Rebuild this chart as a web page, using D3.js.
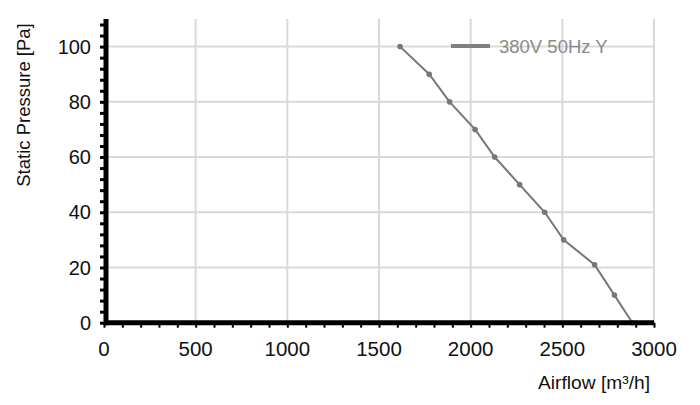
<!DOCTYPE html>
<html>
<head>
<meta charset="utf-8">
<script src="https://cdn.jsdelivr.net/npm/d3@7"></script>
<style>
  body { margin: 0; background: #fff; }
  svg { display: block; font-family: "Liberation Sans", Arial, sans-serif; }
</style>
</head>
<body>
<div id="root"></div>
<script>
// Data
const airflow = [1615, 1774, 1885, 2024, 2131, 2267, 2404, 2507, 2676, 2784, 2882];
const pressure = [100, 90, 80, 70, 60, 50, 40, 30, 21, 10, 0];
const seriesName = '380V 50Hz Y';
const xTicks = [0, 500, 1000, 1500, 2000, 2500, 3000];
const yTicks = [0, 20, 40, 60, 80, 100];

const width = 700;
const height = 405;
const plotL = 104, plotR = 654, plotT = 19, plotB = 322.7;
const gray = '#777';

const svg = d3.select('#root')
    .append('svg')
    .attr('width', width)
    .attr('height', height);

const x = d3.scaleLinear().domain([0, 3000]).range([plotL, plotR]);
const y = d3.scaleLinear().domain([0, 110]).range([plotB, plotT]);

// Grid
svg.append('g')
    .selectAll('line')
    .data(xTicks.slice(1))
    .join('line')
    .attr('x1', d => x(d)).attr('x2', d => x(d))
    .attr('y1', plotT).attr('y2', plotB)
    .attr('stroke', '#d9d9d9')
    .attr('stroke-width', 2);
svg.append('g')
    .selectAll('line')
    .data(yTicks.slice(1))
    .join('line')
    .attr('x1', plotL).attr('x2', plotR)
    .attr('y1', d => y(d)).attr('y2', d => y(d))
    .attr('stroke', '#d9d9d9')
    .attr('stroke-width', 2);

// Curve
const pts = airflow.map((a, i) => [a, pressure[i]]);
svg.append('path')
    .datum(pts)
    .attr('fill', 'none')
    .attr('stroke', gray)
    .attr('stroke-width', 2)
    .attr('d', d3.line().x(d => x(d[0])).y(d => y(d[1])));
svg.append('g')
    .selectAll('circle')
    .data(pts)
    .join('circle')
    .attr('cx', d => x(d[0]))
    .attr('cy', d => y(d[1]))
    .attr('r', 2.8)
    .attr('fill', gray);

// Axes: minor ticks, then major ones with labels
const yMinor = d3.axisLeft(y).tickValues(d3.range(0, 110, 4)).tickSize(6).tickFormat('');
const xMinor = d3.axisBottom(x).tickValues(d3.range(0, 3001, 100)).tickSize(5).tickFormat('');

const gy = svg.append('g')
    .attr('transform', `translate(${plotL + 2},0)`)
    .call(yMinor);
gy.selectAll('.tick line').attr('stroke', '#000').attr('stroke-width', 3);
gy.select('.domain').remove();

const gx = svg.append('g')
    .attr('transform', `translate(0,${plotB})`)
    .call(xMinor);
gx.selectAll('.tick line').attr('stroke', '#000').attr('stroke-width', 2);
gx.select('.domain').remove();

// Thick axis lines
svg.append('line')
    .attr('x1', plotL + 2).attr('x2', plotL + 2)
    .attr('y1', plotT).attr('y2', plotB + 2.5)
    .attr('stroke', '#000').attr('stroke-width', 5);
svg.append('line')
    .attr('x1', plotL).attr('x2', plotR)
    .attr('y1', plotB).attr('y2', plotB)
    .attr('stroke', '#000').attr('stroke-width', 5);

// Tick labels
svg.append('g')
    .selectAll('text')
    .data(yTicks)
    .join('text')
    .attr('x', 91)
    .attr('y', d => y(d))
    .attr('dy', '0.36em')
    .attr('text-anchor', 'end')
    .attr('font-size', 20)
    .attr('fill', '#111')
    .text(d => d);
svg.append('g')
    .selectAll('text')
    .data(xTicks)
    .join('text')
    .attr('x', d => x(d))
    .attr('y', 356)
    .attr('text-anchor', 'middle')
    .attr('font-size', 20.5)
    .attr('fill', '#111')
    .text(d => d);

// Axis titles
svg.append('text')
    .attr('text-anchor', 'end')
    .attr('x', 650)
    .attr('y', 389)
    .attr('font-size', 19.2)
    .attr('fill', '#111')
    .text('Airflow [m³/h]');
svg.append('text')
    .attr('text-anchor', 'middle')
    .attr('transform', 'translate(30,105)rotate(-90)')
    .attr('font-size', 18.5)
    .attr('fill', '#111')
    .text('Static Pressure [Pa]');

// Legend
svg.append('line')
    .attr('x1', 451).attr('x2', 490)
    .attr('y1', 46).attr('y2', 46)
    .attr('stroke', '#808080')
    .attr('stroke-width', 4);
svg.append('text')
    .attr('x', 499)
    .attr('y', 52.5)
    .attr('font-size', 18.5)
    .attr('fill', '#8a8a8a')
    .text(seriesName);
</script>
</body>
</html>
